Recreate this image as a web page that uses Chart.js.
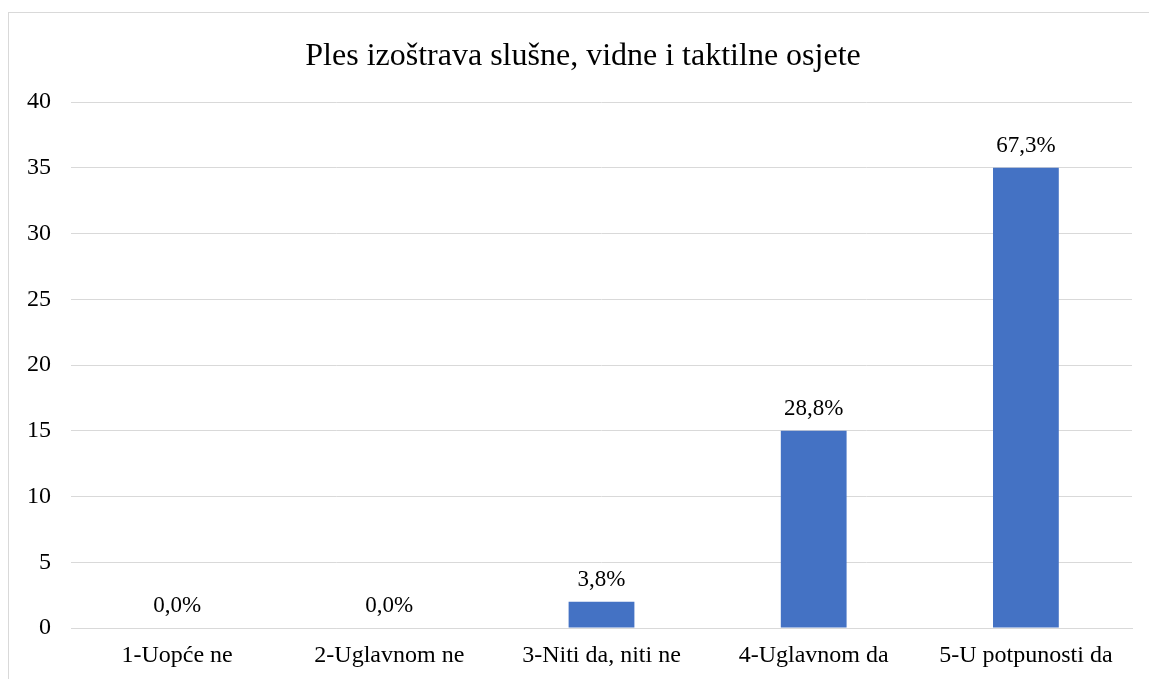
<!DOCTYPE html>
<html lang="hr">
<head>
    <meta charset="UTF-8">
    <title>Ples izoštrava slušne, vidne i taktilne osjete</title>
    <script src="https://cdn.jsdelivr.net/npm/chart.js"></script>
    <style>
        body { margin: 0; background: #fff; overflow: hidden; }
        #frame {
            position: absolute; left: 8px; top: 12px;
            width: 1160px; height: 700px;
            border: 1px solid #d9d9d9;
        }
        #box { width: 1140px; height: 666px; }
    </style>
</head>
<body>
    <div id="frame"><div id="box"><canvas id="chart"></canvas></div></div>

    <script>
        const chartTitle = 'Ples izoštrava slušne, vidne i taktilne osjete';
        const categories = ['1-Uopće ne', '2-Uglavnom ne', '3-Niti da, niti ne', '4-Uglavnom da', '5-U potpunosti da'];
        const counts = [0, 0, 2, 15, 35];
        const pctLabels = ['0,0%', '0,0%', '3,8%', '28,8%', '67,3%'];
        const yTicks = [0, 5, 10, 15, 20, 25, 30, 35, 40];

        const serif = '"Liberation Serif", "Times New Roman", serif';

        // title drawn by hand so it can sit a little right of the canvas centre, like the original
        const titlePlugin = {
            id: 'ownTitle',
            afterDraw(chart) {
                const ctx = chart.ctx;
                ctx.save();
                ctx.font = '32px ' + serif;
                ctx.fillStyle = '#000';
                ctx.textAlign = 'center';
                ctx.textBaseline = 'middle';
                ctx.fillText(chartTitle, chart.width / 2 + 4, 44);
                ctx.restore();
            }
        };

        // draws the percentage above each bar
        const barLabels = {
            id: 'barLabels',
            afterDatasetsDraw(chart) {
                const ctx = chart.ctx;
                const meta = chart.getDatasetMeta(0);
                ctx.save();
                ctx.font = '23px ' + serif;
                ctx.fillStyle = '#000';
                ctx.textAlign = 'center';
                ctx.textBaseline = 'alphabetic';
                meta.data.forEach((bar, i) => {
                    ctx.fillText(pctLabels[i], bar.x, bar.y - 16);
                });
                ctx.restore();
            }
        };

        new Chart(document.getElementById('chart'), {
            type: 'bar',
            data: {
                labels: categories,
                datasets: [{
                    data: counts,
                    backgroundColor: '#4472c4',
                    categoryPercentage: 1,
                    barPercentage: 0.31
                }]
            },
            options: {
                responsive: true,
                maintainAspectRatio: false,
                animation: false,
                layout: { padding: { left: 0, right: 17, top: 89, bottom: 0 } },
                plugins: {
                    legend: { display: false },
                    tooltip: { enabled: false },
                    title: { display: false }
                },
                scales: {
                    x: {
                        grid: { display: false },
                        border: { color: '#d9d9d9' },
                        ticks: { color: '#000', font: { family: serif, size: 24 }, padding: 5, maxRotation: 0 },
                        afterFit(scale) { scale.height = 51; }
                    },
                    y: {
                        min: 0,
                        max: 40,
                        afterBuildTicks(scale) { scale.ticks = yTicks.map(v => ({ value: v })); },
                        grid: { color: '#d9d9d9', drawTicks: false },
                        border: { display: false },
                        ticks: { color: '#000', font: { family: serif, size: 24 }, padding: 20 },
                        afterFit(scale) { scale.width = 62; }
                    }
                }
            },
            plugins: [barLabels, titlePlugin]
        });
    </script>
</body>
</html>
